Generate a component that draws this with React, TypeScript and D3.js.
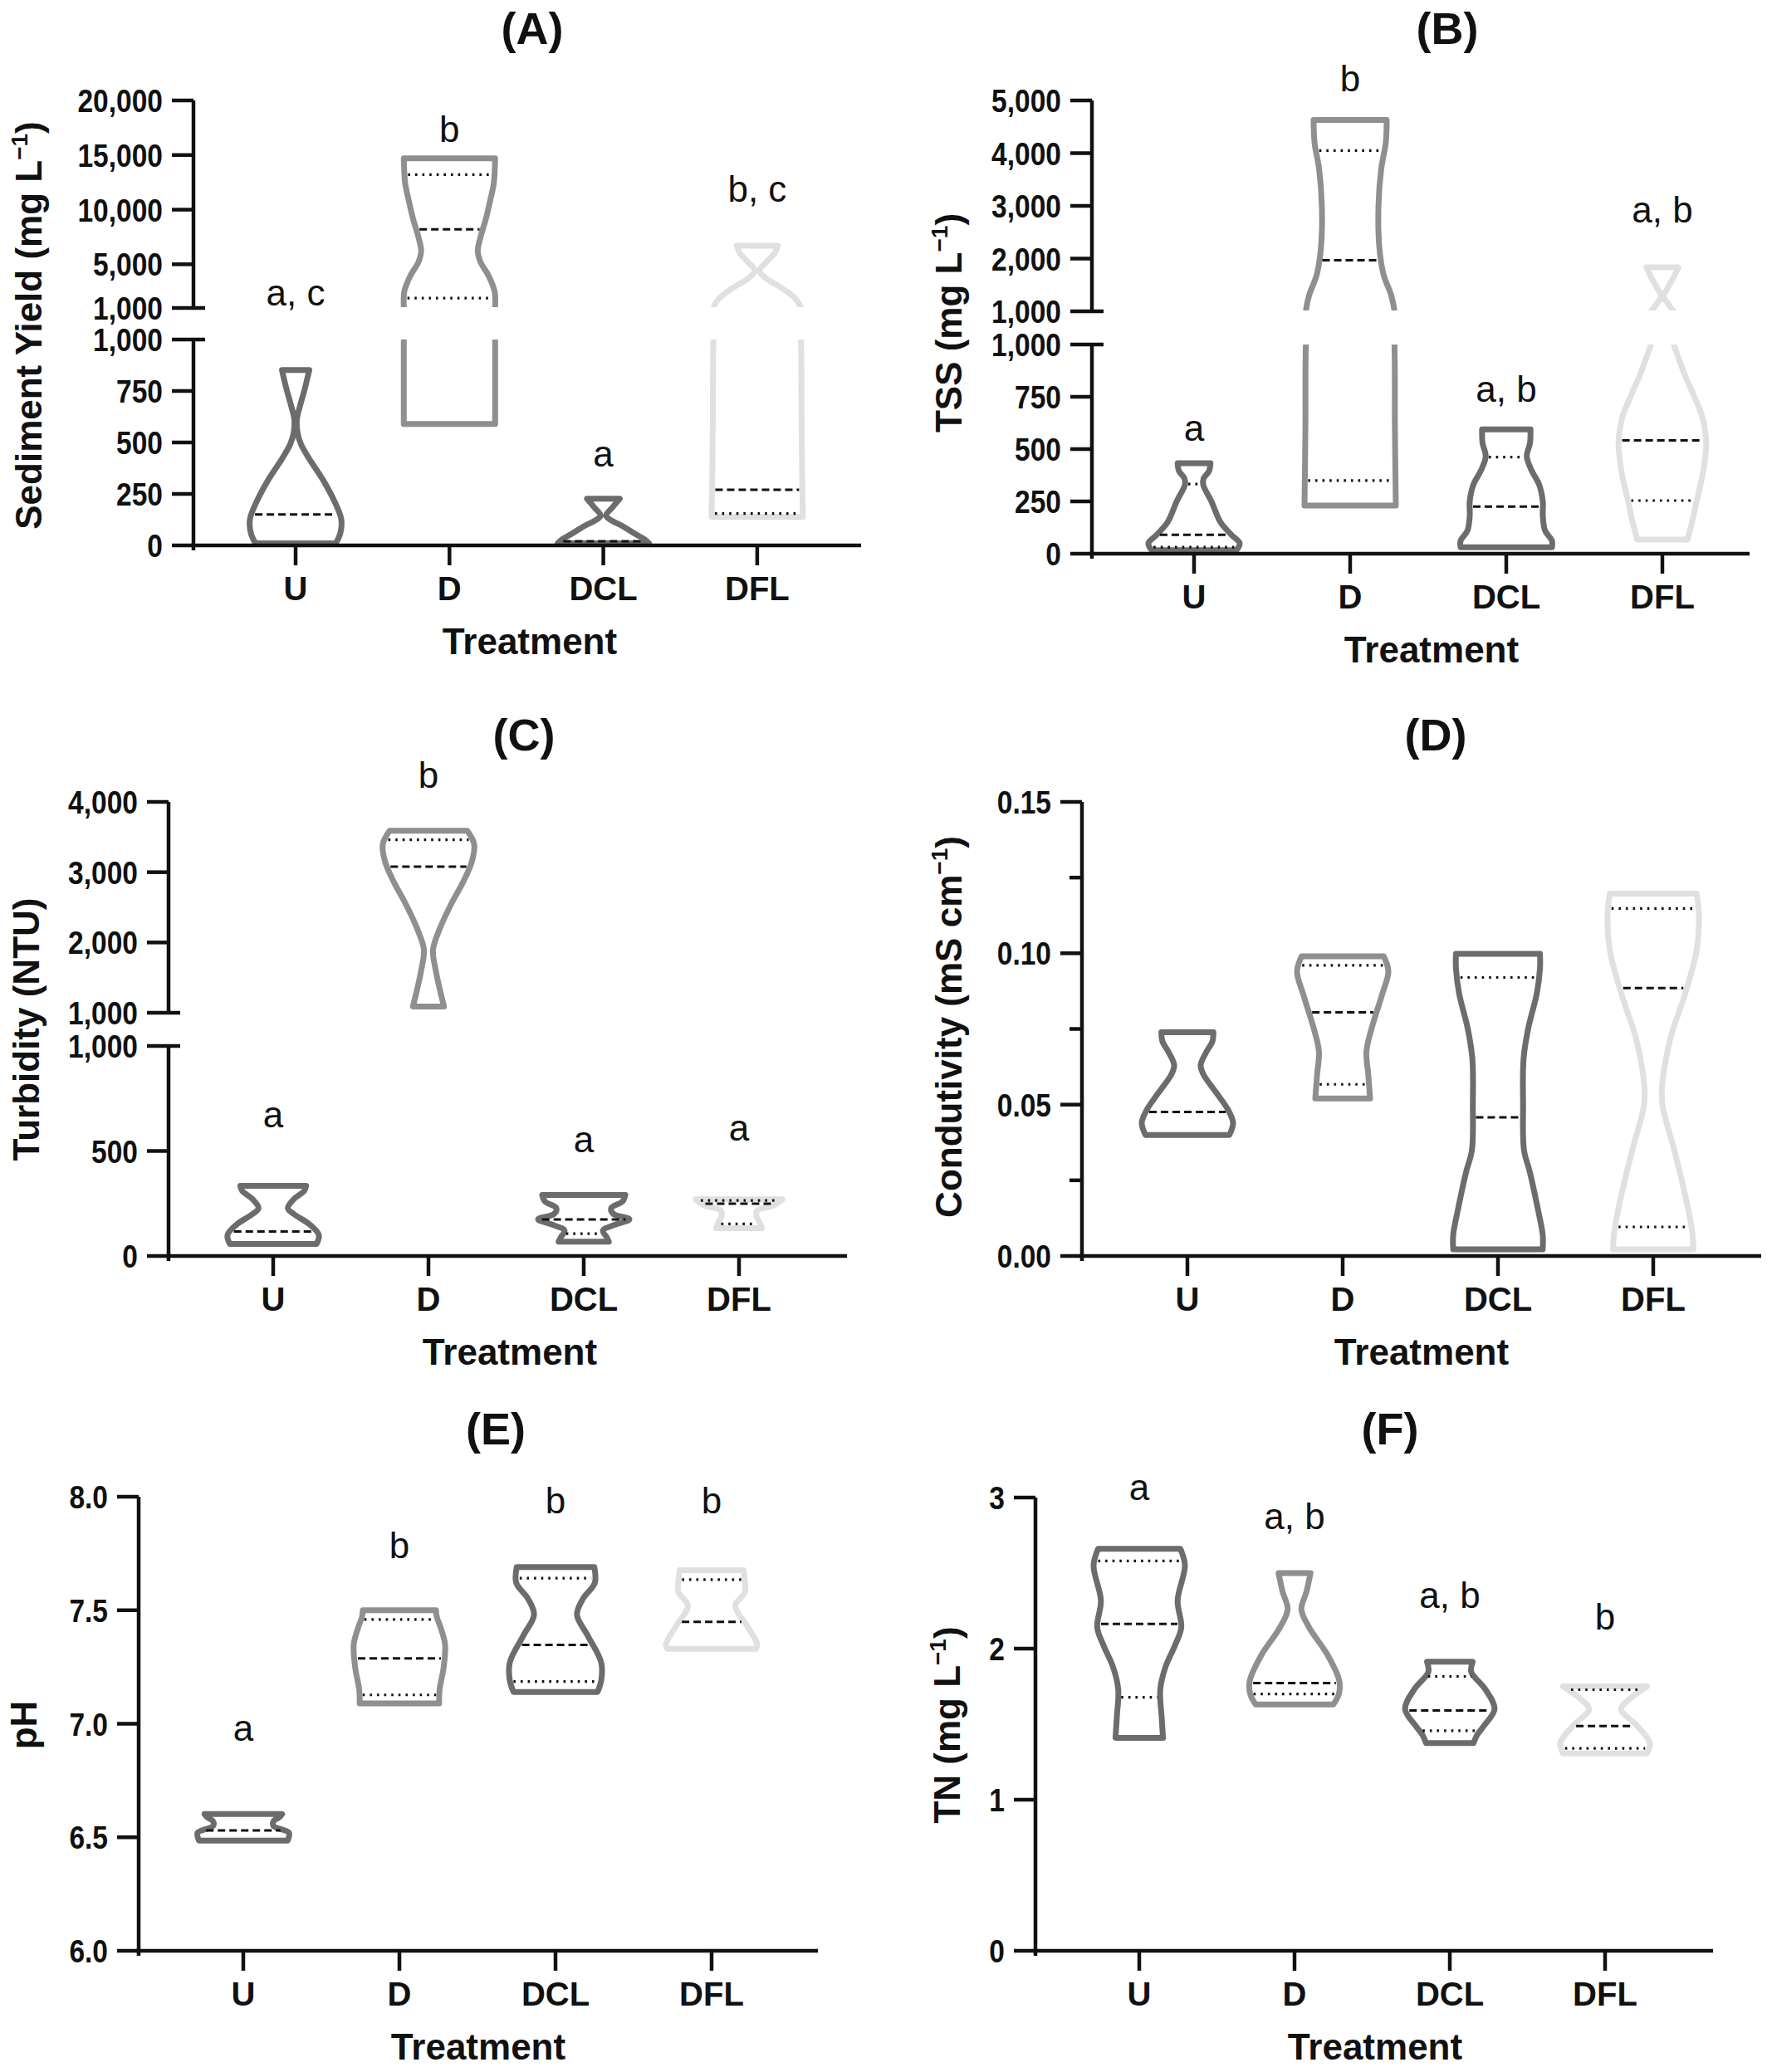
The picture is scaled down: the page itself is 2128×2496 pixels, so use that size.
import React from 'react';
import * as d3 from 'd3';

const categories = ['U', 'D', 'DCL', 'DFL'];
const violinColors = ['#6c6c6c', '#8f8f8f', '#6c6c6c', '#e0e0e0'];

// violin outlines are [value, relative half-width]

// (A) sediment yield
const sedProfiles = [
  [[10, 0.88], [60, 0.98], [127, 1.0], [200, 0.88], [318, 0.6], [420, 0.3], [490, 0.12], [550, 0.04], [615, 0.03], [680, 0.1], [760, 0.2], [852, 0.3]],
  [[590, 1.0], [1000, 1.0], [2500, 0.99], [4000, 0.85], [5200, 0.68], [6200, 0.62], [7500, 0.68], [9200, 0.8], [11000, 0.9], [12400, 0.97], [14700, 1.0]],
  [[10, 1.0], [30, 0.9], [55, 0.7], [90, 0.45], [125, 0.15], [145, 0.06], [185, 0.2], [227, 0.36]],
  [[138, 1.0], [400, 0.98], [700, 0.97], [1000, 0.96], [1800, 0.85], [2800, 0.55], [3700, 0.2], [4400, 0.05], [5200, 0.2], [6000, 0.38], [6700, 0.45]],
];
const sedMedian = [150, 8200, 20, 270];
const sedQ1 = [null, 1900, null, 155];
const sedQ3 = [null, 13200, null, null];
const sedLetters = ['a, c', 'b', 'a', 'b, c'];
const sedLetterAt = [1230, 16200, 383, 10730];
const sedTicksLow = [0, 250, 500, 750, 1000];
const sedTicksHigh = [1000, 5000, 10000, 15000, 20000];

// (B) TSS
const tssProfiles = [
  [[17, 0.93], [50, 1.0], [90, 0.82], [150, 0.58], [250, 0.38], [330, 0.2], [360, 0.21], [395, 0.33], [433, 0.36]],
  [[230, 1.0], [600, 0.98], [1000, 0.97], [1300, 0.9], [1700, 0.73], [2200, 0.64], [3000, 0.62], [3700, 0.68], [4200, 0.78], [4630, 0.8]],
  [[31, 1.0], [62, 1.0], [110, 0.85], [180, 0.8], [250, 0.8], [330, 0.72], [400, 0.55], [465, 0.45], [530, 0.52], [594, 0.53]],
  [[67, 0.55], [150, 0.65], [250, 0.75], [400, 0.9], [530, 0.96], [650, 0.88], [750, 0.7], [850, 0.5], [950, 0.33], [1000, 0.25], [1150, 0.12], [1280, 0.03], [1450, 0.12], [1650, 0.25], [1836, 0.35]],
];
const tssMedian = [90, 1970, 225, 542];
const tssQ1 = [31, 350, null, 254];
const tssQ3 = [333, 4050, 462, null];
const tssLetters = ['a', 'b', 'a, b', 'a, b'];
const tssLetterAt = [540, 5170, 726, 2685];
const tssTicksLow = [0, 250, 500, 750, 1000];
const tssTicksHigh = [1000, 2000, 3000, 4000, 5000];

// (C) turbidity
const turbProfiles = [
  [[57, 0.95], [100, 1.0], [150, 0.8], [200, 0.45], [228, 0.32], [270, 0.45], [310, 0.68], [334, 0.72]],
  [[1090, 0.34], [1300, 0.26], [1600, 0.16], [1900, 0.1], [2200, 0.25], [2550, 0.5], [2850, 0.75], [3150, 0.95], [3400, 1.0], [3590, 0.85]],
  [[68, 0.55], [90, 0.5], [121, 0.42], [150, 0.7], [175, 1.0], [200, 0.65], [228, 0.6], [260, 0.85], [291, 0.91]],
  [[132, 0.5], [160, 0.45], [190, 0.38], [217, 0.4], [240, 0.75], [270, 0.95]],
];
const turbMedian = [117, 3080, 174, 249];
const turbQ1 = [null, null, 106, 153];
const turbQ3 = [null, 3460, null, 264];
const turbLetters = ['a', 'b', 'a', 'a'];
const turbLetterAt = [613, 4200, 494, 549];
const turbTicksLow = [0, 500, 1000];
const turbTicksHigh = [1000, 2000, 3000, 4000];

// (D) conductivity
const condProfiles = [
  [[0.040, 0.92], [0.044, 1.0], [0.048, 0.9], [0.054, 0.63], [0.060, 0.35], [0.063, 0.29], [0.067, 0.4], [0.071, 0.55], [0.0739, 0.57]],
  [[0.052, 0.6], [0.056, 0.58], [0.060, 0.56], [0.0675, 0.52], [0.075, 0.63], [0.0867, 0.87], [0.094, 1.0], [0.099, 0.9]],
  [[0.0022, 0.98], [0.007, 0.98], [0.0158, 0.87], [0.0276, 0.7], [0.035, 0.57], [0.05, 0.55], [0.065, 0.56], [0.075, 0.66], [0.0867, 0.85], [0.095, 0.92], [0.0998, 0.92]],
  [[0.0022, 0.88], [0.0084, 0.85], [0.020, 0.7], [0.035, 0.46], [0.050, 0.2], [0.057, 0.2], [0.072, 0.38], [0.0867, 0.7], [0.101, 0.95], [0.113, 1.0], [0.1197, 0.95]],
];
const condMedian = [0.0476, 0.0805, 0.0458, 0.0885];
const condQ1 = [null, 0.0567, null, 0.0096];
const condQ3 = [null, 0.096, 0.092, 0.1148];
const condTicks = [0, 0.05, 0.10, 0.15];
const condMinorTicks = [0.025, 0.075, 0.125];

// (E) pH
const phProfiles = [
  [[6.485, 0.97], [6.52, 1.0], [6.55, 0.66], [6.57, 0.66], [6.59, 0.8], [6.602, 0.85]],
  [[7.09, 0.87], [7.15, 0.88], [7.25, 0.97], [7.35, 1.0], [7.425, 0.9], [7.47, 0.82], [7.50, 0.8]],
  [[7.14, 0.92], [7.19, 1.0], [7.27, 1.0], [7.39, 0.7], [7.48, 0.47], [7.55, 0.6], [7.62, 0.86], [7.69, 0.85]],
  [[7.33, 0.97], [7.35, 1.0], [7.43, 0.78], [7.52, 0.52], [7.58, 0.73], [7.64, 0.72], [7.676, 0.7]],
];
const phMedian = [6.53, 7.288, 7.347, 7.449];
const phQ1 = [null, 7.127, 7.186, null];
const phQ3 = [null, 7.459, 7.641, 7.635];
const phLetters = ['a', 'b', 'b', 'b'];
const phLetterAt = [6.925, 7.729, 7.927, 7.927];
const phTicks = [6.0, 6.5, 7.0, 7.5, 8.0];

// (F) total nitrogen
const tnProfiles = [
  [[1.41, 0.52], [1.55, 0.49], [1.73, 0.46], [1.875, 0.57], [2.02, 0.78], [2.14, 0.92], [2.32, 0.84], [2.55, 1.0], [2.661, 0.9]],
  [[1.63, 0.85], [1.70, 0.97], [1.787, 0.98], [1.96, 0.72], [2.14, 0.32], [2.26, 0.15], [2.375, 0.26], [2.50, 0.35]],
  [[1.375, 0.52], [1.43, 0.6], [1.49, 0.75], [1.6, 0.98], [1.73, 0.78], [1.846, 0.47], [1.913, 0.5]],
  [[1.307, 0.92], [1.375, 0.98], [1.49, 0.7], [1.6, 0.35], [1.67, 0.55], [1.75, 0.92]],
];
const tnMedian = [2.164, 1.772, 1.59, 1.487];
const tnQ1 = [1.678, 1.70, 1.457, 1.34];
const tnQ3 = [2.58, null, 1.816, 1.728];
const tnLetters = ['a', 'a, b', 'a, b', 'b'];
const tnLetterAt = [2.984, 2.791, 2.269, 2.126];
const tnTicks = [0, 1, 2, 3];

const FONT = 'Liberation Sans, Arial, Helvetica, sans-serif';
const HALF = 55;
const INK = '#111';

const panels = [
  {
    key: 'A', title: '(A)', yTitle: 'Sediment Yield (mg L', sup: true,
    axisX: 233, axisY: 657, xEnd: 1037, firstX: 356, step: 185.3,
    segs: [
      { domain: [0, 1000], range: [657, 409], ticks: sedTicksLow },
      { domain: [1000, 20000], range: [371, 121], ticks: sedTicksHigh },
    ],
    fmt: d3.format(','), minor: [],
    profiles: sedProfiles, median: sedMedian, q1: sedQ1, q3: sedQ3, letters: sedLetters, letterAt: sedLetterAt,
    titleX: 641, titleY: 53, xTitleX: 638, yTitleX: 50, yTitleY: 392,
  },
  {
    key: 'B', title: '(B)', yTitle: 'TSS (mg L', sup: true,
    axisX: 1315, axisY: 667, xEnd: 2107, firstX: 1438, step: 188,
    segs: [
      { domain: [0, 1000], range: [667, 415], ticks: tssTicksLow },
      { domain: [1000, 5000], range: [375, 121], ticks: tssTicksHigh },
    ],
    fmt: d3.format(','), minor: [],
    profiles: tssProfiles, median: tssMedian, q1: tssQ1, q3: tssQ3, letters: tssLetters, letterAt: tssLetterAt,
    titleX: 1743, titleY: 53, xTitleX: 1724, yTitleX: 1158, yTitleY: 389,
  },
  {
    key: 'C', title: '(C)', yTitle: 'Turbidity (NTU)', sup: false,
    axisX: 203, axisY: 1513, xEnd: 1020, firstX: 329, step: 187,
    segs: [
      { domain: [0, 1000], range: [1513, 1260], ticks: turbTicksLow },
      { domain: [1000, 4000], range: [1220, 966], ticks: turbTicksHigh },
    ],
    fmt: d3.format(','), minor: [],
    profiles: turbProfiles, median: turbMedian, q1: turbQ1, q3: turbQ3, letters: turbLetters, letterAt: turbLetterAt,
    titleX: 631, titleY: 904, xTitleX: 614, yTitleX: 47, yTitleY: 1240,
  },
  {
    key: 'D', title: '(D)', yTitle: 'Condutivity (mS cm', sup: true,
    axisX: 1303, axisY: 1513, xEnd: 2121, firstX: 1430, step: 187,
    segs: [{ domain: [0, 0.15], range: [1513, 966], ticks: condTicks }],
    fmt: d3.format('.2f'), minor: condMinorTicks,
    profiles: condProfiles, median: condMedian, q1: condQ1, q3: condQ3, letters: [], letterAt: [],
    titleX: 1729, titleY: 904, xTitleX: 1712, yTitleX: 1158, yTitleY: 1237,
  },
  {
    key: 'E', title: '(E)', yTitle: 'pH', sup: false,
    axisX: 167, axisY: 2350, xEnd: 985, firstX: 293, step: 188,
    segs: [{ domain: [6, 8], range: [2350, 1803], ticks: phTicks }],
    fmt: d3.format('.1f'), minor: [],
    profiles: phProfiles, median: phMedian, q1: phQ1, q3: phQ3, letters: phLetters, letterAt: phLetterAt,
    titleX: 597, titleY: 1740, xTitleX: 576, yTitleX: 44, yTitleY: 2078,
  },
  {
    key: 'F', title: '(F)', yTitle: 'TN (mg L', sup: true,
    axisX: 1247, axisY: 2350, xEnd: 2063, firstX: 1372, step: 187,
    segs: [{ domain: [0, 3], range: [2350, 1804], ticks: tnTicks }],
    fmt: d3.format('d'), minor: [],
    profiles: tnProfiles, median: tnMedian, q1: tnQ1, q3: tnQ3, letters: tnLetters, letterAt: tnLetterAt,
    titleX: 1674, titleY: 1740, xTitleX: 1656, yTitleX: 1156, yTitleY: 2078,
  },
];

function widthAt(profile, v) {
  for (let i = 0; i < profile.length - 1; i++) {
    const [a, wa] = profile[i];
    const [b, wb] = profile[i + 1];
    if (v >= a && v <= b) return wa + ((v - a) / (b - a)) * (wb - wa);
  }
  return v < profile[0][0] ? profile[0][1] : profile[profile.length - 1][1];
}

function Panel({ p }) {
  const scales = p.segs.map(s => d3.scaleLinear().domain(s.domain).range(s.range));
  const broken = p.segs.length > 1;
  const breakV = broken ? p.segs[0].domain[1] : Infinity;
  const yOf = v => (v <= breakV ? scales[0](v) : scales[scales.length - 1](v));
  const x = d3.scalePoint().domain(categories).range([p.firstX, p.firstX + p.step * 3]);

  const clipY = (i) => {
    const s = p.segs[i];
    const top = i === p.segs.length - 1 ? s.range[1] - 300 : s.range[1];
    const bottom = i === 0 ? s.range[0] + 40 : s.range[0] - 1;
    return [top, bottom];
  };

  return (
    <g>
      <defs>
        {p.segs.map((s, i) => {
          const [t, b] = clipY(i);
          return (
            <clipPath id={`clip-${p.key}-${i}`} key={i}>
              <rect x={p.axisX} y={t} width={p.xEnd - p.axisX} height={b - t} />
            </clipPath>
          );
        })}
      </defs>

      {/* violins */}
      {categories.map((c, ci) => {
        const cx = x(c);
        const prof = p.profiles[ci];
        const vMin = prof[0][0];
        const vMax = prof[prof.length - 1][0];
        return (
          <g key={c}>
            {scales.map((sc, si) => {
              const [d0, d1] = p.segs[si].domain;
              if (broken && (vMax <= d0 || vMin >= d1)) return null;
              const area = d3.area()
                .curve(d3.curveCatmullRom.alpha(0.5))
                .y(d => sc(d[0]))
                .x0(d => cx - d[1] * HALF)
                .x1(d => cx + d[1] * HALF);
              return (
                <path key={si} d={area(prof)} fill="#fff" stroke={violinColors[ci]}
                  strokeWidth={7} strokeLinejoin="round"
                  clipPath={broken ? `url(#clip-${p.key}-${si})` : undefined} />
              );
            })}
            {[['m', p.median[ci]], ['q', p.q1[ci]], ['q', p.q3[ci]]].map(([kind, v], k) => {
              if (v == null) return null;
              const w = widthAt(prof, v) * HALF - 4;
              const yy = yOf(v);
              return (
                <line key={k} x1={cx - w} x2={cx + w} y1={yy} y2={yy} stroke="#111"
                  strokeWidth={kind === 'm' ? 3 : 3.2}
                  strokeDasharray={kind === 'm' ? '9 5' : '2.6 6'} />
              );
            })}
          </g>
        );
      })}

      {/* y axis */}
      {p.segs.map((s, i) => {
        const sc = scales[i];
        const yBottom = i === 0 ? s.range[0] + 6 : s.range[0];
        return (
          <g key={i}>
            <line x1={p.axisX} x2={p.axisX} y1={yBottom} y2={s.range[1]} stroke={INK} strokeWidth={4.5} />
            {s.ticks.map(t => {
              const isBreak = broken && t === breakV;
              return (
                <g key={t}>
                  <line x1={p.axisX - 26} x2={isBreak ? p.axisX + 14 : p.axisX} y1={sc(t)} y2={sc(t)}
                    stroke={INK} strokeWidth={4.5} />
                  <text transform={`translate(${p.axisX - 37},${sc(t)}) scale(0.86,1)`} dy="0.36em"
                    textAnchor="end" fontFamily={FONT} fontWeight="bold" fontSize={39} fill={INK}>
                    {p.fmt(t)}
                  </text>
                </g>
              );
            })}
          </g>
        );
      })}
      {p.minor.map(t => (
        <line key={t} x1={p.axisX - 15} x2={p.axisX} y1={scales[0](t)} y2={scales[0](t)} stroke={INK} strokeWidth={4.5} />
      ))}

      {/* x axis */}
      <line x1={p.axisX - 3} x2={p.xEnd} y1={p.axisY} y2={p.axisY} stroke={INK} strokeWidth={4.5} />
      {categories.map(c => (
        <g key={c}>
          <line x1={x(c)} x2={x(c)} y1={p.axisY} y2={p.axisY + 24} stroke={INK} strokeWidth={4.5} />
          <text x={x(c)} y={p.axisY + 66} textAnchor="middle" fontFamily={FONT} fontWeight="bold"
            fontSize={40} fill={INK}>{c}</text>
        </g>
      ))}

      {/* significance letters */}
      {p.letters.map((l, i) => (
        <text key={i} x={x(categories[i])} y={yOf(p.letterAt[i])} textAnchor="middle" fontFamily={FONT}
          fontSize={44} fill={INK}>{l}</text>
      ))}

      {/* titles */}
      <text x={p.titleX} y={p.titleY} textAnchor="middle" fontFamily={FONT} fontWeight="bold" fontSize={54}
        fill={INK}>{p.title}</text>
      <text x={p.xTitleX} y={p.axisY + 131} textAnchor="middle" fontFamily={FONT} fontWeight="bold"
        fontSize={44} fill={INK}>Treatment</text>
      <text transform={`translate(${p.yTitleX},${p.yTitleY}) rotate(-90)`} textAnchor="middle"
        fontFamily={FONT} fontWeight="bold" fontSize={44} fill={INK}>
        {p.yTitle}
        {p.sup && <tspan fontSize={28} dy={-17}>−1</tspan>}
        {p.sup && <tspan dy={17}>)</tspan>}
      </text>
    </g>
  );
}

export default function App() {
  return (
    <div style={{ position: 'absolute', left: 0, top: 0 }}>
      <svg width={2128} height={2496} viewBox="0 0 2128 2496" style={{ display: 'block', background: '#fff' }}>
        <rect width={2128} height={2496} fill="#fff" />
        {panels.map(p => <Panel key={p.key} p={p} />)}
      </svg>
    </div>
  );
}
